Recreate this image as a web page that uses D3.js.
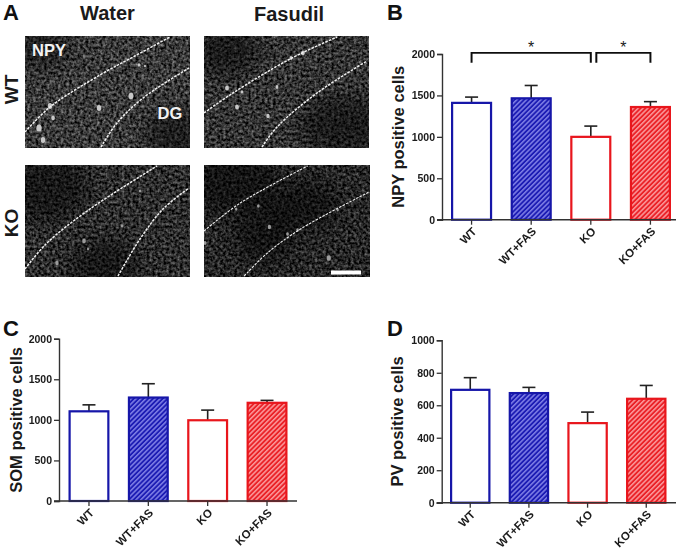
<!DOCTYPE html>
<html><head><meta charset="utf-8">
<script src="https://cdn.jsdelivr.net/npm/d3@7/dist/d3.min.js"></script>
<style>html,body{margin:0;padding:0;background:#fff}svg{display:block}text{font-family:"Liberation Sans",Arial,sans-serif;fill:#1a1a1a}</style>
</head><body><div id="c"></div>
<script>
// ---------- chart data ----------
const categories = ["WT","WT+FAS","KO","KO+FAS"];
const npyValues = [1410,1465,1000,1360];
const npyErrorTops = [1480,1620,1130,1425];
const somValues = [1105,1275,995,1210];
const somErrorTops = [1185,1445,1120,1240];
const pvValues = [695,675,490,640];
const pvErrorTops = [770,710,558,722];
const npyTicks = [0,500,1000,1500,2000];
const somTicks = [0,500,1000,1500,2000];
const pvTicks = [0,200,400,600,800,1000];
const barColors = ["#1414a8","#1414a8","#e8141c","#e8141c"];
const barHatched = [false,true,false,true];
const sigBrackets = [
  {from:"WT", to:"KO"},
  {from:"KO", to:"KO+FAS"}
];

// ---------- micrograph content, in the image's own 165x112 units ----------
const upperBoundaries = [
  [[0,96],[25,71],[75,39],[108,21],[145,1]],
  [[0,77],[29,57],[86,23],[133,1]],
  [[0,104],[22,78],[65,44],[132,1]],
  [[0,66],[36,38],[103,1]]
];
const lowerBoundaries = [
  [[76,111],[92,87],[118,62],[164,32]],
  [[58,111],[73,91],[113,57],[163,25]],
  [[93,111],[115,74],[138,44],[164,23]],
  [[40,111],[63,88],[96,64],[164,27]]
];
const cellSpots = [
  [[14,92,3.6],[25,70,3],[18,104,3],[28,82,2.4],[74,72,3],[106,60,3.2],[114,29,1.8],[120,30,1.3]],
  [[23,52,2.6],[33,71,2.6],[64,80,2.2],[73,51,2],[99,17,2.4],[87,22,2],[38,56,1.8]],
  [[32,98,2.2],[59,76,2.4],[97,61,1.8],[115,26,1.6],[63,84,1.4]],
  [[124,93,2.8],[65,62,2.2],[54,41,1.8],[93,65,1.8],[83,69,1.8],[32,44,1.6],[1,78,2],[133,45,1.4]]
];
// darker tissue regions: cx, cy, rx, ry
const darkZones = [
  [[15,10,30,22],[150,100,30,30]],
  [[20,15,35,25],[140,90,45,30]],
  [[22,22,40,35],[80,100,35,25]],
  [[25,15,50,35],[60,70,30,30],[100,40,35,25]]
];
const microRows = ["WT","KO"];
const microColumns = ["Water","Fasudil"];

// ---------- drawing ----------
const svg = d3.select("#c").append("svg").attr("width",682).attr("height",554);
const defs = svg.append("defs");

function hatch(id,bg,fg){
  const p = defs.append("pattern").attr("id",id).attr("patternUnits","userSpaceOnUse")
    .attr("width",3.4).attr("height",3.4).attr("patternTransform","rotate(45)");
  p.append("rect").attr("width",3.4).attr("height",3.4).attr("fill",bg);
  p.append("rect").attr("width",1.5).attr("height",3.4).attr("fill",fg);
}
hatch("hatch-blue","#1e1eb4","#7f7fe6");
hatch("hatch-red","#ea2028","#fb9a9c");

defs.append("filter").attr("id","soft").attr("x","-5%").attr("y","-5%").attr("width","110%").attr("height","110%")
  .append("feGaussianBlur").attr("stdDeviation",0.35);
defs.append("filter").attr("id","softer").append("feGaussianBlur").attr("stdDeviation",0.6);
defs.append("filter").attr("id","veil").attr("x","-30%").attr("y","-30%").attr("width","160%").attr("height","160%")
  .append("feGaussianBlur").attr("stdDeviation",9);

// speckled tissue texture: deterministic turbulence mapped to greys
function tissue(id,seed,gain,off){
  const f = defs.append("filter").attr("id",id).attr("x",0).attr("y",0).attr("width","100%").attr("height","100%")
    .attr("color-interpolation-filters","sRGB");
  f.append("feTurbulence").attr("type","fractalNoise").attr("baseFrequency",0.36).attr("numOctaves",2).attr("seed",seed).attr("result","n");
  f.append("feColorMatrix").attr("in","n").attr("type","matrix")
    .attr("values",`${gain} 0 0 0 ${off}  ${gain} 0 0 0 ${off}  ${gain} 0 0 0 ${off}  0 0 0 0 1`);
  f.append("feGaussianBlur").attr("stdDeviation",0.55);
}
[[3,0.85,-0.2],[11,0.8,-0.2],[23,0.75,-0.2],[37,0.7,-0.2]].forEach((d,i)=>tissue("tissue"+i,d[0],d[1],d[2]));

const micro = [
  {x:25,y:36,w:165,h:112},{x:204,y:36,w:165,h:112},
  {x:25,y:165,w:165,h:112},{x:204,y:165,w:166,h:112}
];
const boundary = d3.line().curve(d3.curveCatmullRom.alpha(0.5));
micro.forEach((m,i)=>{
  const mx = d3.scaleLinear().domain([0,165]).range([0,m.w]);
  const my = d3.scaleLinear().domain([0,112]).range([0,m.h]);
  const clip = defs.append("clipPath").attr("id","clip"+i);
  clip.append("rect").attr("width",m.w).attr("height",m.h);
  const g = svg.append("g").attr("transform",`translate(${m.x},${m.y})`).attr("clip-path",`url(#clip${i})`);
  g.append("rect").attr("width",m.w).attr("height",m.h).attr("fill","#222").attr("filter",`url(#tissue${i})`);
  g.selectAll("ellipse.dark").data(darkZones[i]).join("ellipse").attr("class","dark")
    .attr("cx",d=>mx(d[0])).attr("cy",d=>my(d[1])).attr("rx",d=>d[2]).attr("ry",d=>d[3])
    .attr("fill","#000").attr("opacity",0.45).attr("filter","url(#veil)");
  g.selectAll("ellipse.cell").data(cellSpots[i]).join("ellipse").attr("class","cell")
    .attr("cx",d=>mx(d[0])).attr("cy",d=>my(d[1])).attr("rx",d=>d[2]*0.75).attr("ry",d=>d[2])
    .attr("fill",i<2?"#c8c8c8":"#9c9c9c").attr("filter","url(#softer)");
  const wide = i<3 ? 1.5 : 1.1;
  [upperBoundaries[i],lowerBoundaries[i]].forEach(b=>{
    g.append("path").attr("d",boundary(b.map(p=>[mx(p[0]),my(p[1])])))
      .attr("fill","none").attr("stroke","#f0f0f0").attr("stroke-width",wide).attr("stroke-dasharray","2.6 1.2");
  });
});
// scale bar
svg.append("rect").attr("x",331).attr("y",270.5).attr("width",30).attr("height",4).attr("fill","#fff");

// micrograph labels
svg.append("text").attr("x",107.5).attr("y",20).attr("text-anchor","middle").attr("font-size",20).attr("font-weight",700).text(microColumns[0]);
svg.append("text").attr("x",289).attr("y",21).attr("text-anchor","middle").attr("font-size",20).attr("font-weight",700).text(microColumns[1]);
svg.append("text").attr("transform","translate(18,89.5) rotate(-90)").attr("text-anchor","middle").attr("font-size",19).attr("font-weight",700).text(microRows[0]);
svg.append("text").attr("transform","translate(18,223) rotate(-90)").attr("text-anchor","middle").attr("font-size",19).attr("font-weight",700).text(microRows[1]);
svg.append("text").attr("x",32).attr("y",56).attr("font-size",16.5).attr("font-weight",700).style("fill","#f2f2f2").text("NPY");
svg.append("text").attr("x",157.5).attr("y",119).attr("font-size",16.5).attr("font-weight",700).style("fill","#f2f2f2").text("DG");

// panel letters
[["A",3,20],["B",387,20],["C",3,336],["D",387,336]].forEach(d=>{
  svg.append("text").attr("x",d[1]).attr("y",d[2]).attr("font-size",22).attr("font-weight",700).style("fill","#111").text(d[0]);
});

// bar panels
function panel(o){
  const y = d3.scaleLinear().domain([0,o.max]).range([o.y0,o.y1]);
  const x = d3.scaleBand().domain(categories).range([o.b0,o.b1]).paddingInner(0.31).paddingOuter(0);
  const g = svg.append("g").attr("filter","url(#soft)");
  const sw = 2.2;
  categories.forEach((c,i)=>{
    const cx = x(c)+x.bandwidth()/2;
    g.append("line").attr("x1",cx).attr("x2",cx).attr("y1",y(o.values[i])).attr("y2",y(o.tops[i])).attr("stroke","#222").attr("stroke-width",1.6);
    g.append("line").attr("x1",cx-6.5).attr("x2",cx+6.5).attr("y1",y(o.tops[i])).attr("y2",y(o.tops[i])).attr("stroke","#222").attr("stroke-width",1.6);
  });
  g.selectAll("rect.bar").data(categories).join("rect").attr("class","bar")
    .attr("x",c=>x(c)+sw/2).attr("width",x.bandwidth()-sw)
    .attr("y",(c,i)=>y(o.values[i])).attr("height",(c,i)=>o.y0-y(o.values[i]))
    .attr("stroke",(c,i)=>barColors[i]).attr("stroke-width",sw)
    .attr("fill",(c,i)=>barHatched[i]?(i<2?"url(#hatch-blue)":"url(#hatch-red)"):"#fff");
  const ya = g.append("g").attr("transform",`translate(${o.ax},0)`)
    .call(d3.axisLeft(y).tickValues(o.ticks).tickSize(5).tickPadding(2).tickFormat(d3.format("d")));
  ya.selectAll("text").attr("font-size",10.5).attr("font-weight",700).attr("font-family",'"Liberation Sans",Arial,sans-serif');
  const xa = g.append("g").attr("transform",`translate(0,${o.y0})`)
    .call(d3.axisBottom(x).tickSize(5).tickPadding(3));
  xa.select(".domain").remove();
  g.append("line").attr("x1",o.ax-5).attr("x2",o.end).attr("y1",o.y0).attr("y2",o.y0).attr("stroke","#333").attr("stroke-width",1.4);
  xa.selectAll("text").attr("font-size",11.5).attr("font-weight",700).attr("font-family",'"Liberation Sans",Arial,sans-serif')
    .attr("text-anchor","end").attr("dy","0.3em").attr("dx","0.2em")
    .attr("transform","translate(-4,6) rotate(-45)");
  g.selectAll(".tick line").attr("stroke","#333").attr("stroke-width",1.3);
  ya.select(".domain").attr("stroke","#333").attr("stroke-width",1.4);
  svg.append("text").attr("transform",`translate(${o.lx},${(o.y0+o.y1)/2}) rotate(-90)`)
    .attr("text-anchor","middle").attr("font-size",16.5).attr("font-weight",700).text(o.label);
  return {x,y};
}

const b = panel({y0:219.7,y1:54,b0:451,b1:671,ax:442,end:676,max:2000,values:npyValues,tops:npyErrorTops,ticks:npyTicks,label:"NPY positive cells",lx:404,ld:0});
panel({y0:501,y1:338.7,b0:68.5,b1:287.5,ax:59,end:297,max:2000,values:somValues,tops:somErrorTops,ticks:somTicks,label:"SOM positive cells",lx:22,ld:0});
panel({y0:502.7,y1:340.3,b0:450,b1:666.5,ax:441.7,end:676,max:1000,values:pvValues,tops:pvErrorTops,ticks:pvTicks,label:"PV positive cells",lx:403,ld:0});

// significance brackets on panel B
const centre = c => b.x(c)+b.x.bandwidth()/2;
const by = b.y(2000)-1.2, bh = 10;
sigBrackets.forEach((s,i)=>{
  const l = centre(s.from)+(i?5.5:0), r = centre(s.to);
  svg.append("path").attr("d",`M${l},${by+bh}V${by}H${r}V${by+bh}`).attr("fill","none").attr("stroke","#111").attr("stroke-width",2).attr("filter","url(#soft)");
  svg.append("text").attr("x",(l+r)/2).attr("y",by+0.5).attr("text-anchor","middle").attr("font-size",16).attr("font-weight",400).text("*");
});
</script></body></html>
